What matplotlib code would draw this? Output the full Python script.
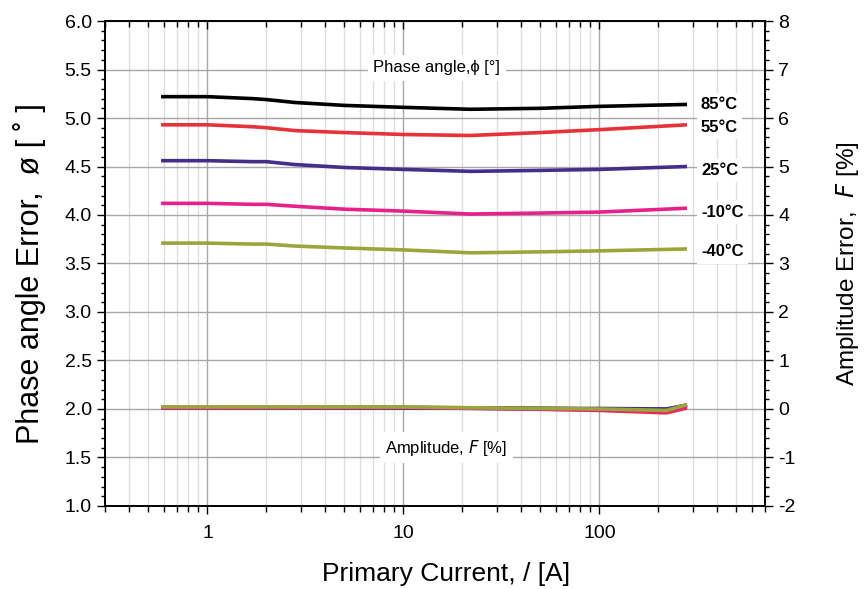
import matplotlib
matplotlib.use("Agg")
import matplotlib.pyplot as plt
from matplotlib.ticker import LogLocator, MultipleLocator, NullFormatter, FixedLocator, FixedFormatter

plt.rcParams["font.family"] = ["Liberation Sans", "DejaVu Sans"]
plt.rcParams["axes.unicode_minus"] = False

# primary current [A]
current = [0.58, 1.0, 1.7, 2.0, 2.8, 5.0, 10, 22, 50, 100, 280]
temps = ["85°C", "55°C", "25°C", "-10°C", "-40°C"]
colors = ["#000000", "#e8323a", "#452e8a", "#e8218a", "#9aa53a"]

# phase angle error [deg]
phase_85 = [5.22, 5.22, 5.20, 5.19, 5.16, 5.13, 5.11, 5.09, 5.10, 5.12, 5.14]
phase_55 = [4.93, 4.93, 4.91, 4.90, 4.87, 4.85, 4.83, 4.82, 4.85, 4.88, 4.93]
phase_25 = [4.56, 4.56, 4.55, 4.55, 4.52, 4.49, 4.47, 4.45, 4.46, 4.47, 4.50]
phase_m10 = [4.12, 4.12, 4.11, 4.11, 4.09, 4.06, 4.04, 4.01, 4.02, 4.03, 4.07]
phase_m40 = [3.71, 3.71, 3.70, 3.70, 3.68, 3.66, 3.64, 3.61, 3.62, 3.63, 3.65]

# amplitude error [%]
amp_current = [0.58, 1.0, 10, 30, 100, 220, 280]
amp_85 = [0.03, 0.03, 0.03, 0.02, 0.00, -0.01, 0.08]
amp_55 = [0.03, 0.03, 0.03, 0.01, -0.03, -0.08, 0.02]
amp_25 = [0.02, 0.02, 0.02, 0.01, 0.01, 0.00, 0.08]
amp_m10 = [0.02, 0.02, 0.03, 0.01, -0.02, -0.05, 0.05]
amp_m40 = [0.04, 0.04, 0.04, 0.02, 0.00, -0.03, 0.09]

label_y = [5.14, 4.90, 4.46, 4.03, 3.62]
label_x = 330

phases = [phase_85, phase_55, phase_25, phase_m10, phase_m40]
amps = [amp_85, amp_55, amp_25, amp_m10, amp_m40]

fig = plt.figure(figsize=(8.64, 5.89), dpi=100)
ax = fig.add_axes([0.1215, 0.141, 0.7639, 0.8233])
ax2 = ax.twinx()

ax.set_xscale("log")
ax.set_xlim(0.3, 700)
ax.set_ylim(1.0, 6.0)
ax2.set_ylim(-2, 8)

# grid
ax.xaxis.set_major_locator(FixedLocator([1, 10, 100]))
ax.xaxis.set_major_formatter(FixedFormatter(["1", "10", "100"]))
ax.xaxis.set_minor_locator(LogLocator(base=10, subs=range(2, 10), numticks=20))
ax.xaxis.set_minor_formatter(NullFormatter())
ax.grid(True, which="major", axis="x", color="#a8a8a8", lw=1.0)
ax.grid(True, which="minor", axis="x", color="#dedede", lw=1.0)
ax.grid(True, which="major", axis="y", color="#a8a8a8", lw=1.0)
ax.set_axisbelow(True)

ax.yaxis.set_major_locator(MultipleLocator(0.5))
ax.yaxis.set_minor_locator(MultipleLocator(0.1))
ax.yaxis.set_major_formatter(plt.FuncFormatter(lambda v, p: f"{v:.1f}"))
ax2.yaxis.set_major_locator(MultipleLocator(1))
ax2.yaxis.set_minor_locator(MultipleLocator(0.2))

ax.tick_params(axis="both", which="both", direction="out", labelsize=14, top=True)
ax.tick_params(axis="y", which="major", length=6, width=1)
ax.tick_params(axis="y", which="minor", length=3, width=1)
ax.tick_params(axis="x", which="major", length=6, width=1, pad=8)
ax.tick_params(axis="x", which="minor", length=4, width=1)
ax2.tick_params(axis="y", which="major", direction="out", length=6, width=1, labelsize=14)
ax2.tick_params(axis="y", which="minor", direction="out", length=3, width=1)

# top ticks pointing inward
for t in ax.xaxis.get_major_ticks() + ax.xaxis.get_minor_ticks():
    t.tick2line.set_marker(3)

for sp in list(ax.spines.values()) + list(ax2.spines.values()):
    sp.set_linewidth(1.2)

for name, c, ph, am in zip(temps, colors, phases, amps):
    ax.plot(current, ph, color=c, lw=2.6, solid_capstyle="butt")
    ax2.plot(amp_current, am, color=c, lw=2.6, solid_capstyle="butt")

for name, y in zip(temps, label_y):
    ax.text(label_x, y, name, fontsize=12, fontweight="bold", ha="left", va="center",
            bbox=dict(facecolor="white", edgecolor="none", pad=3), zorder=5)

ax.text(14.8, 5.52, "Phase angle,ϕ [°]", fontsize=12, ha="center", va="center",
        family=["Liberation Sans", "DejaVu Sans"],
        bbox=dict(facecolor="white", edgecolor="none", pad=4), zorder=5)
ax.text(16.6, 1.60, "Amplitude, $\\it{F}$ [%]", fontsize=12, ha="center", va="center",
        bbox=dict(facecolor="white", edgecolor="none", pad=4), zorder=5)

ax.set_ylabel("Phase angle Error,  ø [ ˚ ]", fontsize=22)
ax.yaxis.set_label_coords(-0.09, 0.48)
ax2.set_ylabel("Amplitude Error,  $\\it{F}$ [%]", fontsize=17.5, labelpad=28)
ax.set_xlabel("Primary Current, / [A]", fontsize=19)
ax.xaxis.set_label_coords(0.517, -0.115)

fig.savefig("out.png", dpi=100, facecolor="white")
